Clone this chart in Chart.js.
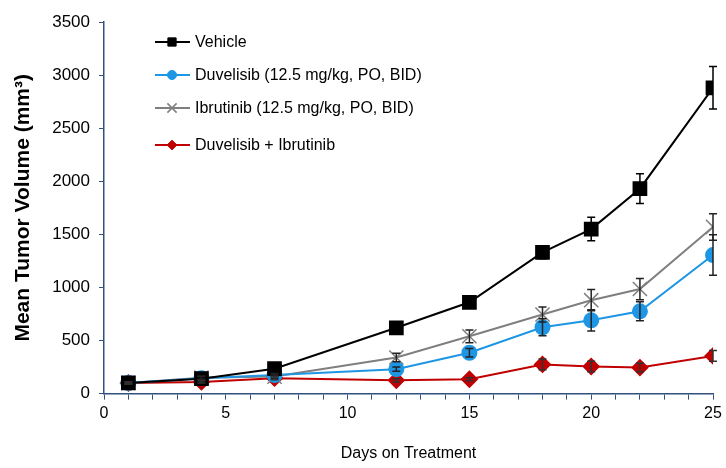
<!DOCTYPE html>
<html>
<head>
<meta charset="utf-8">
<script src="https://cdn.jsdelivr.net/npm/chart.js@4/dist/chart.umd.min.js"></script>
<style>
    html, body { margin: 0; padding: 0; background: #fff; }
    #wrap { width: 726px; height: 468px; }
</style>
</head>
<body>
<div id="wrap"><canvas id="tumorChart" width="726" height="468"></canvas></div>
<script>
// DATA
const days = [1, 4, 7, 12, 15, 18, 20, 22, 25];

const vehicle = [100, 140, 235, 620, 860, 1330, 1550, 1930, 2880];
const vehicleErr = [15, 15, 25, 30, 35, 60, 110, 140, 200];

const duvelisib = [100, 145, 175, 230, 385, 625, 690, 775, 1305];
const duvelisibErr = [10, 15, 15, 20, 40, 80, 100, 90, 190];

const ibrutinib = [100, 150, 160, 340, 540, 745, 880, 985, 1570];
const ibrutinibErr = [10, 15, 15, 40, 60, 70, 100, 100, 125];

const combo = [100, 110, 145, 125, 135, 275, 255, 245, 355];
const comboErr = [10, 10, 15, 15, 15, 50, 50, 40, 50];

const seriesNames = [
    'Vehicle',
    'Duvelisib (12.5 mg/kg, PO, BID)',
    'Ibrutinib (12.5 mg/kg, PO, BID)',
    'Duvelisib + Ibrutinib'
];

const yTicks = [0, 500, 1000, 1500, 2000, 2500, 3000, 3500];

const FONT = 'Liberation Sans, Arial, sans-serif';

const toPoints = (values) => values.map((v, i) => ({ x: days[i], y: v }));

// error bars drawn from the scales
const errorBarPlugin = {
    id: 'errorBars',
    afterDatasetsDraw(chart) {
        const ctx = chart.ctx;
        const xScale = chart.scales.x;
        const yScale = chart.scales.y;
        chart.data.datasets.forEach((ds) => {
            ctx.save();
            ctx.strokeStyle = ds.errorColor;
            ctx.lineWidth = 1.5;
            ds.data.forEach((pt, i) => {
                const err = ds.errors[i];
                const px = xScale.getPixelForValue(pt.x);
                const top = yScale.getPixelForValue(pt.y + err);
                const bottom = yScale.getPixelForValue(pt.y - err);
                ctx.beginPath();
                ctx.moveTo(px, top);
                ctx.lineTo(px, bottom);
                ctx.moveTo(px - 4, top);
                ctx.lineTo(px + 4, top);
                ctx.moveTo(px - 4, bottom);
                ctx.lineTo(px + 4, bottom);
                ctx.stroke();
            });
            ctx.restore();
        });
    }
};

// legend inside the plot, top left
const innerLegendPlugin = {
    id: 'innerLegend',
    afterDraw(chart) {
        const ctx = chart.ctx;
        const rows = [42, 75, 108, 145];
        ctx.save();
        chart.data.datasets.forEach((ds, i) => {
            const y = rows[i];
            ctx.strokeStyle = ds.borderColor;
            ctx.fillStyle = ds.backgroundColor;
            ctx.lineWidth = 2;
            ctx.beginPath();
            ctx.moveTo(155, y);
            ctx.lineTo(190, y);
            ctx.stroke();
            ctx.lineWidth = ds.pointBorderWidth || 1;
            Chart.helpers.drawPoint(ctx, {
                pointStyle: ds.pointStyle,
                radius: ds.pointRadius * 0.65,
                rotation: 0,
                borderWidth: ds.pointBorderWidth || 1
            }, 172, y);
            ctx.fillStyle = '#000';
            ctx.font = '16px ' + FONT;
            ctx.textBaseline = 'middle';
            ctx.fillText(seriesNames[i], 195, y + 1);
        });
        ctx.restore();
    }
};

const datasets = [
    {
        label: seriesNames[0],
        data: toPoints(vehicle),
        errors: vehicleErr,
        errorColor: '#000000',
        borderColor: '#000000',
        backgroundColor: '#000000',
        pointStyle: 'rect',
        pointRadius: 9,
        borderWidth: 2
    },
    {
        label: seriesNames[1],
        data: toPoints(duvelisib),
        errors: duvelisibErr,
        errorColor: '#222222',
        borderColor: '#1e96e4',
        backgroundColor: '#1e96e4',
        pointStyle: 'circle',
        pointRadius: 7,
        borderWidth: 2
    },
    {
        label: seriesNames[2],
        data: toPoints(ibrutinib),
        errors: ibrutinibErr,
        errorColor: '#222222',
        borderColor: '#7f7f7f',
        backgroundColor: '#7f7f7f',
        pointStyle: 'crossRot',
        pointRadius: 10,
        pointBorderWidth: 1.5,
        borderWidth: 2
    },
    {
        label: seriesNames[3],
        data: toPoints(combo),
        errors: comboErr,
        errorColor: '#333333',
        borderColor: '#c00000',
        backgroundColor: '#c00000',
        pointStyle: 'rectRot',
        pointRadius: 7.5,
        borderWidth: 2
    }
];

new Chart(document.getElementById('tumorChart'), {
    type: 'line',
    data: { datasets: datasets },
    options: {
        responsive: false,
        animation: false,
        layout: { padding: { left: 11, right: 13, top: 22, bottom: 5 } },
        plugins: {
            legend: { display: false },
            tooltip: { enabled: false }
        },
        elements: {
            line: { tension: 0 },
            point: { hoverRadius: 0 }
        },
        scales: {
            x: {
                type: 'linear',
                min: 0,
                max: 25,
                border: { color: '#34507e', width: 1.5 },
                grid: {
                    drawOnChartArea: false,
                    drawTicks: true,
                    tickLength: 6,
                    color: '#34507e'
                },
                ticks: {
                    stepSize: 1,
                    autoSkip: false,
                    maxRotation: 0,
                    padding: 4,
                    color: '#000',
                    font: { family: FONT, size: 16 },
                    callback: (v) => (v % 5 === 0 ? String(v) : '')
                },
                title: {
                    display: true,
                    text: 'Days on Treatment',
                    color: '#000',
                    font: { family: FONT, size: 16 },
                    padding: { top: 17, bottom: 0 }
                }
            },
            y: {
                min: 0,
                max: 3500,
                afterBuildTicks: (axis) => {
                    axis.ticks = yTicks.map(v => ({ value: v }));
                },
                border: { color: '#34507e', width: 1.5 },
                grid: {
                    drawOnChartArea: false,
                    drawTicks: true,
                    tickLength: 5,
                    color: '#34507e'
                },
                ticks: {
                    padding: 9,
                    color: '#000',
                    font: { family: FONT, size: 17 },
                    callback: (v) => String(v)
                },
                title: {
                    display: true,
                    text: 'Mean Tumor Volume (mm³)',
                    color: '#000',
                    font: { family: FONT, size: 21, weight: 'bold' },
                    padding: { top: 0, bottom: 7 }
                }
            }
        }
    },
    plugins: [errorBarPlugin, innerLegendPlugin]
});
</script>
</body>
</html>
